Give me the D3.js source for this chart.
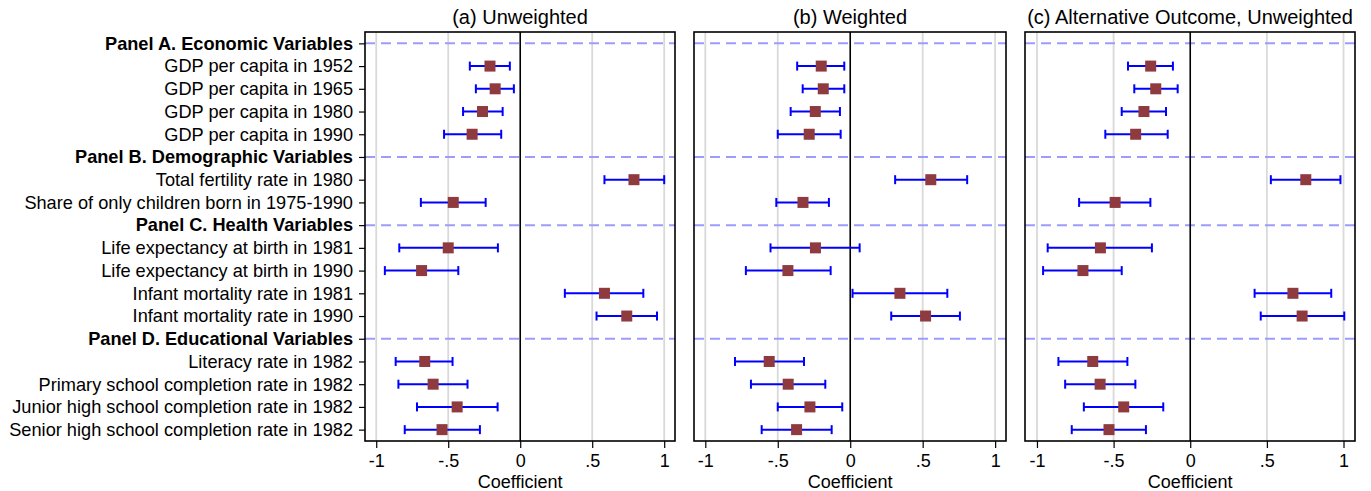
<!DOCTYPE html>
<html>
<head>
<meta charset="utf-8">
<script src="https://cdn.jsdelivr.net/npm/d3@7"></script>
<style>
  body { margin: 0; background: #fff; }
  text { font-family: "Liberation Sans", Arial, sans-serif; fill: #000; }
</style>
</head>
<body>
<div id="chart"></div>
<script>

const labels = [
  "Panel A. Economic Variables",
  "GDP per capita in 1952",
  "GDP per capita in 1965",
  "GDP per capita in 1980",
  "GDP per capita in 1990",
  "Panel B. Demographic Variables",
  "Total fertility rate in 1980",
  "Share of only children born in 1975-1990",
  "Panel C. Health Variables",
  "Life expectancy at birth in 1981",
  "Life expectancy at birth in 1990",
  "Infant mortality rate in 1981",
  "Infant mortality rate in 1990",
  "Panel D. Educational Variables",
  "Literacy rate in 1982",
  "Primary school completion rate in 1982",
  "Junior high school completion rate in 1982",
  "Senior high school completion rate in 1982"
];

const headers = [
  "Panel A. Economic Variables",
  "Panel B. Demographic Variables",
  "Panel C. Health Variables",
  "Panel D. Educational Variables"
];

// variables in order, headers skipped
const variables = labels.filter(l => headers.indexOf(l) < 0);

const titles = ["(a) Unweighted", "(b) Weighted", "(c) Alternative Outcome, Unweighted"];

const coefA = [-0.21, -0.174, -0.262, -0.334, 0.79, -0.465, -0.50, -0.685, 0.585, 0.74, -0.663, -0.605, -0.438, -0.543];
const lowA  = [-0.35, -0.308, -0.397, -0.529, 0.585, -0.69, -0.84, -0.94, 0.31, 0.53, -0.865, -0.846, -0.717, -0.802];
const highA = [-0.072, -0.044, -0.122, -0.132, 1.0, -0.24, -0.155, -0.43, 0.855, 0.95, -0.47, -0.366, -0.157, -0.28];

const coefB = [-0.2, -0.186, -0.241, -0.283, 0.556, -0.326, -0.24, -0.43, 0.343, 0.52, -0.559, -0.428, -0.278, -0.37];
const lowB  = [-0.366, -0.328, -0.411, -0.50, 0.31, -0.51, -0.55, -0.72, 0.016, 0.283, -0.795, -0.685, -0.50, -0.611];
const highB = [-0.041, -0.041, -0.071, -0.066, 0.807, -0.147, 0.065, -0.135, 0.67, 0.757, -0.319, -0.172, -0.055, -0.128];

const coefC = [-0.258, -0.225, -0.302, -0.356, 0.754, -0.49, -0.586, -0.70, 0.67, 0.73, -0.636, -0.588, -0.434, -0.53];
const lowC  = [-0.406, -0.365, -0.447, -0.554, 0.526, -0.725, -0.93, -0.96, 0.42, 0.46, -0.86, -0.816, -0.694, -0.773];
const highC = [-0.113, -0.082, -0.158, -0.147, 0.98, -0.26, -0.25, -0.447, 0.92, 1.005, -0.41, -0.358, -0.176, -0.289];

const xTicks = [-1, -0.5, 0, 0.5, 1];
const xTickLabels = ["-1", "-.5", "0", ".5", "1"];

const panels = [
  { title: titles[0], coef: coefA, low: lowA, high: highA, x0: 365, x1: 675 },
  { title: titles[1], coef: coefB, low: lowB, high: highB, x0: 694, x1: 1006 },
  { title: titles[2], coef: coefC, low: lowC, high: highC, x0: 1025, x1: 1355 }
];

let width = 1371;
let height = 491;
let plotTop = 32, plotBottom = 441;

let svg = d3.select('#chart').append('svg')
.attr('width', width)
.attr('height', height);

let y = d3.scalePoint()
.domain(labels)
.range([plotTop, plotBottom])
.padding(0.5);

// y labels on the first panel only
let yAxis = svg.append('g')
.attr('transform', `translate(${panels[0].x0},0)`)
.call(d3.axisLeft(y).tickSize(6).tickPadding(6));

yAxis.select('.domain').remove();
yAxis.selectAll('.tick line').attr('stroke', '#000').attr('stroke-width', 1.2);
yAxis.selectAll('.tick text')
.style('font-size', '18.2px')
.style('font-weight', d => headers.indexOf(d) > -1 ? 'bold' : 'normal');

panels.forEach(p => {

  let x = d3.scaleLinear()
  .domain([-1.078, 1.075])
  .range([p.x0, p.x1]);

  let g = svg.append('g');

  // grid
  g.selectAll('.grid')
  .data(xTicks.filter(t => t !== 0))
  .enter()
  .append('line')
  .attr('x1', d => x(d)).attr('x2', d => x(d))
  .attr('y1', plotTop).attr('y2', plotBottom)
  .attr('stroke', '#d9d9d9')
  .attr('stroke-width', 1.8);

  // panel separators
  g.selectAll('.sep')
  .data(headers)
  .enter()
  .append('line')
  .attr('x1', p.x0).attr('x2', p.x1)
  .attr('y1', d => y(d)).attr('y2', d => y(d))
  .attr('stroke', '#9c9cff')
  .attr('stroke-width', 2)
  .attr('stroke-dasharray', '10,6');

  g.append('line')
  .attr('x1', x(0)).attr('x2', x(0))
  .attr('y1', plotTop).attr('y2', plotBottom)
  .attr('stroke', '#000')
  .attr('stroke-width', 1.6);

  let rows = variables.map((v, i) => ({ name: v, coef: p.coef[i], low: p.low[i], high: p.high[i] }));

  let bars = g.selectAll('.ci')
  .data(rows)
  .enter()
  .append('g');

  bars.append('line')
  .attr('x1', d => x(d.low)).attr('x2', d => x(d.high))
  .attr('y1', d => y(d.name)).attr('y2', d => y(d.name))
  .attr('stroke', '#0000ff')
  .attr('stroke-width', 2);

  bars.selectAll('.cap')
  .data(d => [d.low, d.high].map(v => ({ v: v, name: d.name })))
  .enter()
  .append('line')
  .attr('x1', d => x(d.v)).attr('x2', d => x(d.v))
  .attr('y1', d => y(d.name) - 4.5).attr('y2', d => y(d.name) + 4.5)
  .attr('stroke', '#0000ff')
  .attr('stroke-width', 2);

  bars.append('rect')
  .attr('x', d => x(d.coef) - 5.5)
  .attr('y', d => y(d.name) - 5.5)
  .attr('width', 11)
  .attr('height', 11)
  .attr('fill', '#8e3a3e');

  // frame
  g.append('rect')
  .attr('x', p.x0).attr('y', plotTop)
  .attr('width', p.x1 - p.x0).attr('height', plotBottom - plotTop)
  .attr('fill', 'none')
  .attr('stroke', '#000')
  .attr('stroke-width', 1.6);

  let xAxis = g.append('g')
  .attr('transform', `translate(0,${plotBottom})`)
  .call(d3.axisBottom(x).tickValues(xTicks).tickFormat((d, i) => xTickLabels[i]).tickSize(7).tickPadding(6));

  xAxis.select('.domain').remove();
  xAxis.selectAll('.tick line').attr('stroke', '#000').attr('stroke-width', 1.2);
  xAxis.selectAll('.tick text').style('font-size', '18px');

  g.append('text')
  .attr('x', x(0))
  .attr('y', 488)
  .attr('text-anchor', 'middle')
  .style('font-size', '18px')
  .text('Coefficient');

  g.append('text')
  .attr('x', (p.x0 + p.x1) / 2)
  .attr('y', 24)
  .attr('text-anchor', 'middle')
  .style('font-size', '20px')
  .text(p.title);
});

</script>
</body>
</html>
